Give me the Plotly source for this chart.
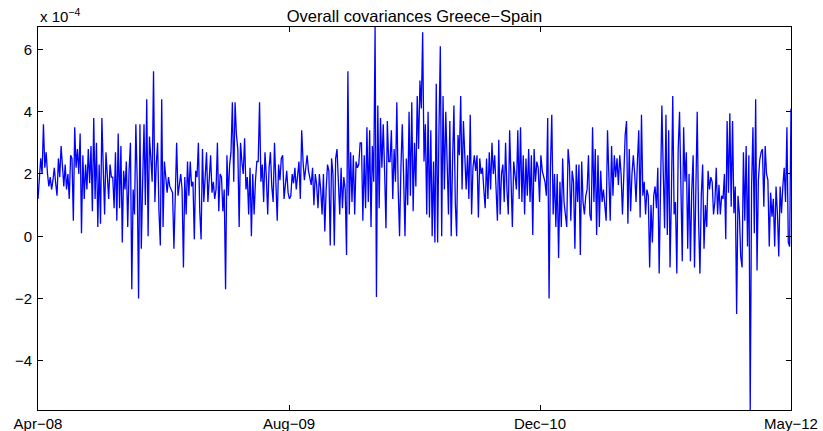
import plotly.graph_objects as go

# Daily covariance estimates (units of 1e-4), April 2008 to May 2012
seg_a = [1.2, 2.0, 2.5, 2.0, 3.6, 2.2, 2.7, 2.0, 1.6, 1.9, 1.5, 1.8, 2.2, 1.7, 1.3, 2.5, 1.9, 2.9,
         2.2, 1.6, 2.3, 1.5, 2.0, 1.2, 2.6, 2.5, 0.5, 3.5, 2.2, 2.8, 2.0, 3.3, 0.1, 2.6, 1.2, 2.3,
         1.5, 2.8, 1.7, 2.9, 0.8, 3.8, 1.2, 3.0, 0.3, 2.3, 0.4, 3.8]
seg_b = [2.2, 0.7, 2.7, 2.1, 1.2, 2.3, 1.9, 1.9, 0.9, 2.7, 0.5, 3.3, 0.9, 2.9, -0.2, 2.1, 1.5,
         2.4, 0.3, 2.1, 3.0, -1.7, 1.5, 0.7, 3.6, 1.75, -2.0, 3.6, -0.4, 1.75, 3.6, 1.0, 4.4,
         0.0, 3.2, 2.5, 1.75, 5.3, 1.1, 2.3, 3.0, 0.8, -0.3, 4.4, 0.3, 2.4, 1.75, 1.4, 1.9, 1.6]
seg_c = [1.5, 1.4, -0.4, 1.5, 3.0, 1.3, 1.75, 2.0, 1.5, -1.0, 1.9, 0.7, 2.4, 1.3, 2.4, 1.6,
         1.75, -0.1, 2.1, 1.9, 3.0, 0.8, -0.1, 2.8, 1.1, 2.2, 2.7, 1.1, 2.1, 2.6, 1.4, 1.75,
         1.2, 1.5, 3.0, 0.8, 2.0, 1.9, 0.8, 1.5, -1.7, 2.6, 1.3, 2.3, 2.7, 4.3, 1.75, 4.3,
         3.25, 2.8, 0.3]
seg_d = [3.0, 2.4, 2.0, 3.15, 1.5, 1.9, 0.7, 2.2, 0.0, 2.0, 0.7, 1.8, 2.4, 2.4, 4.3, 1.75,
         2.3, 1.1, 2.7, 1.9, 0.7, 2.2, 2.7, 1.6, 1.1, 3.0, 1.5, 0.5, 2.3, 1.8, 2.5, 2.6, 1.2,
         1.75, 2.1, 1.4, 1.2, 1.3, 2.0, 1.7, 2.2, 1.5, 1.9, 2.4, 1.2, 3.4, 2.4, 1.8, 2.2, 2.6]
seg_e = [2.1, 1.9, 1.65, 2.2, 1.0, 2.0, 1.65, 0.9, 2.0, 1.5, 0.7, 2.0, 0.15, 1.5, 2.3, 2.1,
         -0.3, 2.5, 2.0, -0.3, 2.5, 2.8, 1.4, 0.7, 2.2, 0.9, 1.9, 1.5, -0.6, 5.3, 0.7, 2.7,
         1.1, 2.6, 0.7, 2.4, 2.2, 2.3, 3.0, 3.0, 0.5, 2.6, 0.9, 3.5, 1.1, 3.4, 0.3, 2.9, 1.75,
         6.72, -1.95]
seg_f = [4.2, 0.9, 3.8, 2.2, 3.6, 2.1, 0.26, 3.7, 2.4, 2.4, 3.4, 1.2, 2.8, 1.75, 4.3, 1.5,
         0.0, 2.2, 3.6, 1.9, 0.0, 2.5, 1.0, 4.0, 1.3, 4.3, 0.8, 3.0, 1.6, 4.5, 2.8, 5.0, 4.1,
         6.55, 2.4, 3.6, 0.7, 4.0, 0.6, 3.4, 0.0, 2.4, -0.2, 4.9, -0.2, 3.4, 6.1, 0.0, 4.5,
         1.5, 4.0]
seg_g = [2.4, 0.7, 3.7, 0.0, 2.4, 4.2, 1.1, 0.0, 3.25, 2.6, 4.5, 1.5, 3.7, 2.4, 1.5, 2.6, 1.2,
         3.9, 0.7, 2.2, 2.6, 2.1, 2.6, 0.6, 2.5, 2.0, 2.2, 1.5, 0.9, 2.5, 1.2, 2.7, 1.5, 3.0,
         2.0, 2.6, 1.3, 0.5, 3.1, 0.7, 2.0, 2.3, 1.1, 3.0, 1.5, 0.7, 3.4, 1.5, 0.3, 2.4, 1.9]
seg_h = [1.5, 3.4, 1.2, 3.5, 1.1, 2.6, 0.7, 2.5, 1.3, 2.8, 1.1, 2.6, 0.04, 2.8, 1.75, 2.4, 2.2,
         1.1, 2.6, 2.1, 1.9, 1.75, 1.3, 3.8, -2.0, 2.2, 3.9, 0.7, 2.0, 0.3, 2.0, -0.7, 1.75,
         0.3, 2.5, 1.1, 0.7, 0.3, 2.8, 2.3, 0.5, 2.1, 1.75, -0.4, 2.3, 1.1, 2.3, -0.6, 2.4,
         1.1, 0.7]
seg_i = [1.3, 1.5, 2.6, 0.7, 0.5, 3.5, 1.1, 2.8, 0.04, 2.6, 0.3, 2.1, 1.1, 1.5, 1.1, 0.5, 3.4,
         2.0, 0.5, 2.9, 1.3, 2.6, 1.9, 2.5, 1.65, 2.6, 2.0, 0.7, 1.75, 3.25, 3.7, 0.4, 2.8, 0.8,
         2.0, 2.6, 2.0, 1.1, 2.4, 3.4, 0.6, 3.9, 1.3, 1.75, 0.7, 1.5, 1.3, -1.0, 1.0, -0.2]
seg_j = [1.3, 1.6, 0.9, 2.2, -1.2, 1.5, 4.2, 2.1, 0.26, 3.9, 0.04, 3.4, -1.0, 1.3, 4.5, 0.7,
         1.1, -1.2, 2.8, 4.0, 2.0, -0.8, 3.5, 1.75, 2.7, -0.4, 2.0, -0.8, 1.5, 2.6, -1.0, 1.9,
         4.0, 0.5, -1.2, 1.3, 2.3, -0.4, 1.0, 0.3, 2.1, 1.5, 1.9, 1.75, 0.7, 1.1, 2.2, 0.7,
         1.65, 0.7, 1.3]
seg_k = [1.2, 2.0, -0.1, 3.7, 1.4, 3.95, 0.95, 3.7, 0.74, 1.6, -2.5, 1.3, 0.74, -0.65, -1.0,
         2.7, 0.5, 2.9, -0.33, 2.6, -5.58, 1.6, 3.5, 0.1, 4.4, -1.1, 1.8, 2.45, 2.7, 2.8, 0.95,
         2.9, 2.0, 1.8, -0.33, 1.4, 0.63, 1.2, -0.33, 1.6, 0.74, -0.65, 1.6, 0.74, 1.6, 2.2,
         1.1, 3.5, -0.2, -0.33, 4.1]

cov_e4 = seg_a + seg_b + seg_c + seg_d + seg_e + seg_f + seg_g + seg_h + seg_i + seg_j + seg_k
n = len(cov_e4)
idx = list(range(n))

date_labels = ["Apr\u221208", "Aug\u221209", "Dec\u221210", "May\u221212"]
y_ticks = [-4, -2, 0, 2, 4, 6]

tick_pos = [i * (n - 1) / (len(date_labels) - 1) for i in range(len(date_labels))]

fig = go.Figure()
fig.add_trace(go.Scatter(x=idx, y=cov_e4, mode="lines",
                         line=dict(color="#0000ff", width=1.3),
                         hoverinfo="skip", showlegend=False))

family = "Liberation Sans, Arial, Helvetica, sans-serif"
tick_font = dict(family=family, size=15, color="black")

fig.update_layout(
    width=823, height=431,
    margin=dict(l=38, r=32, t=27, b=21),
    paper_bgcolor="white", plot_bgcolor="white",
    font=tick_font,
    title=dict(text="Overall covariances Greece\u2212Spain", x=0.5, xref="paper",
               xanchor="center", y=1, yref="paper", yanchor="bottom", pad=dict(b=5),
               font=dict(family=family, size=16.5, color="black")),
    xaxis=dict(range=[0, n - 1], tickvals=tick_pos, ticktext=date_labels,
               ticks="inside", ticklen=5, tickcolor="black", mirror="allticks",
               showline=True, linecolor="black", linewidth=1, automargin=False,
               showgrid=False, zeroline=False, tickfont=tick_font, ticklabelstandoff=0),
    yaxis=dict(range=[min(cov_e4), max(cov_e4)], tickvals=y_ticks,
               ticks="inside", ticklen=5, tickcolor="black", mirror="allticks",
               showline=True, linecolor="black", linewidth=1, automargin=False,
               showgrid=False, zeroline=False, tickfont=tick_font, ticklabelstandoff=2),
    annotations=[dict(text="x 10<sup>\u22124</sup>", x=0, xref="paper", y=1,
                      yref="paper", xanchor="left", yanchor="bottom",
                      showarrow=False, font=tick_font)],
)

fig.write_html("out.html")
